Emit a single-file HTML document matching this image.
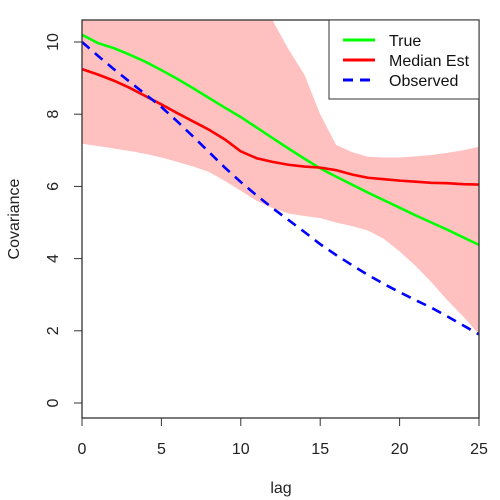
<!DOCTYPE html>
<html><head><meta charset="utf-8"><style>
body{margin:0;background:#fff}
svg{display:block;font-family:"Liberation Sans",Arial,sans-serif}
</style></head><body>
<svg id="chart" width="500" height="500" viewBox="0 0 500 500">
<defs><clipPath id="plotclip"><rect x="82" y="20" width="397" height="398"/></clipPath></defs>
<g id="plot" clip-path="url(#plotclip)"></g>
<rect x="82" y="20" width="397" height="398" fill="none" stroke="#333" stroke-width="1.3"/>
<g id="axes"></g>
<text x="281" y="493" font-size="16" text-anchor="middle" fill="#222">lag</text>
<text transform="translate(19,219) rotate(-90)" font-size="16" text-anchor="middle" fill="#222">Covariance</text>
<g>
<rect x="329" y="20" width="150" height="79" fill="#fff" stroke="#333" stroke-width="1"/>
<line x1="343" y1="40" x2="375" y2="40" stroke="#00ff00" stroke-width="3"/>
<text x="389" y="46" font-size="16" fill="#111">True</text>
<line x1="343" y1="60" x2="375" y2="60" stroke="#ff0000" stroke-width="3"/>
<text x="389" y="66" font-size="16" fill="#111">Median Est</text>
<line x1="343" y1="80" x2="375" y2="80" stroke="#0000ff" stroke-width="3" stroke-dasharray="10,7"/>
<text x="389" y="86" font-size="16" fill="#111">Observed</text>
</g>
</svg>
<script>
const lags=[0,1,2,3,4,5,6,7,8,9,10,11,12,13,14,15,16,17,18,19,20,21,22,23,24,25];
const trueVals=[10.2,9.97,9.83,9.65,9.45,9.22,8.98,8.72,8.45,8.18,7.92,7.63,7.34,7.05,6.77,6.5,6.27,6.05,5.83,5.62,5.41,5.2,5.0,4.8,4.59,4.38];
const medianVals=[9.25,9.1,8.93,8.73,8.5,8.27,8.03,7.8,7.57,7.3,6.97,6.78,6.68,6.6,6.55,6.52,6.45,6.33,6.24,6.2,6.16,6.13,6.1,6.09,6.06,6.05];
const observedVals=[10,9.62,9.25,8.9,8.55,8.2,7.8,7.38,6.95,6.52,6.12,5.75,5.4,5.07,4.74,4.4,4.1,3.82,3.55,3.3,3.07,2.85,2.64,2.4,2.15,1.9];
const upperVals=[12,12,12,12,12,12,12,12,12,12,12,11.3,10.6,9.8,9.1,8.0,7.15,6.95,6.82,6.8,6.8,6.83,6.87,6.93,7.0,7.1];
const lowerVals=[7.18,7.12,7.05,6.98,6.9,6.8,6.68,6.55,6.4,6.15,5.88,5.6,5.4,5.25,5.18,5.12,5.0,4.9,4.78,4.55,4.2,3.8,3.35,2.85,2.4,1.9];
const xTicks=[0,5,10,15,20,25];
const yTicks=[0,2,4,6,8,10];
const X=v=>82+v*(397/25);
const Y=v=>403-v*36.1;
const NS='http://www.w3.org/2000/svg';
const plot=document.getElementById('plot'),axes=document.getElementById('axes');
function mk(tag,attrs,parent){const e=document.createElementNS(NS,tag);for(const k in attrs)e.setAttribute(k,attrs[k]);parent.appendChild(e);return e;}
let d=lags.map((l,i)=>(i?'L':'M')+X(l)+','+Y(upperVals[i])).join('');
for(let i=lags.length-1;i>=0;i--)d+='L'+X(lags[i])+','+Y(lowerVals[i]);
const band=mk('path',{d:d+'Z',fill:'#ffc0c0'},plot);


function line(vals,color,name,dash){const p=mk('path',{d:lags.map((l,i)=>(i?'L':'M')+X(l)+','+Y(vals[i])).join(''),fill:'none',stroke:color,'stroke-width':2.6},plot);if(dash)p.setAttribute('stroke-dasharray',dash);

}
line(trueVals,'#00ff00','true-line');
line(medianVals,'#ff0000','median-est-line');
line(observedVals,'#0000ff','observed-line','10,7');
xTicks.forEach(t=>{const l=mk('line',{x1:X(t),x2:X(t),y1:418,y2:426,stroke:'#333','stroke-width':1},axes);


const tx=mk('text',{x:X(t),y:454,'font-size':16,'text-anchor':'middle',fill:'#222'},axes);tx.textContent=t;

});
yTicks.forEach(t=>{const l=mk('line',{x1:74,x2:82,y1:Y(t),y2:Y(t),stroke:'#333','stroke-width':1},axes);


const tx=mk('text',{transform:'translate(58,'+Y(t)+') rotate(-90)','font-size':16,'text-anchor':'middle',fill:'#222'},axes);tx.textContent=t;

});
</script>
</body></html>
